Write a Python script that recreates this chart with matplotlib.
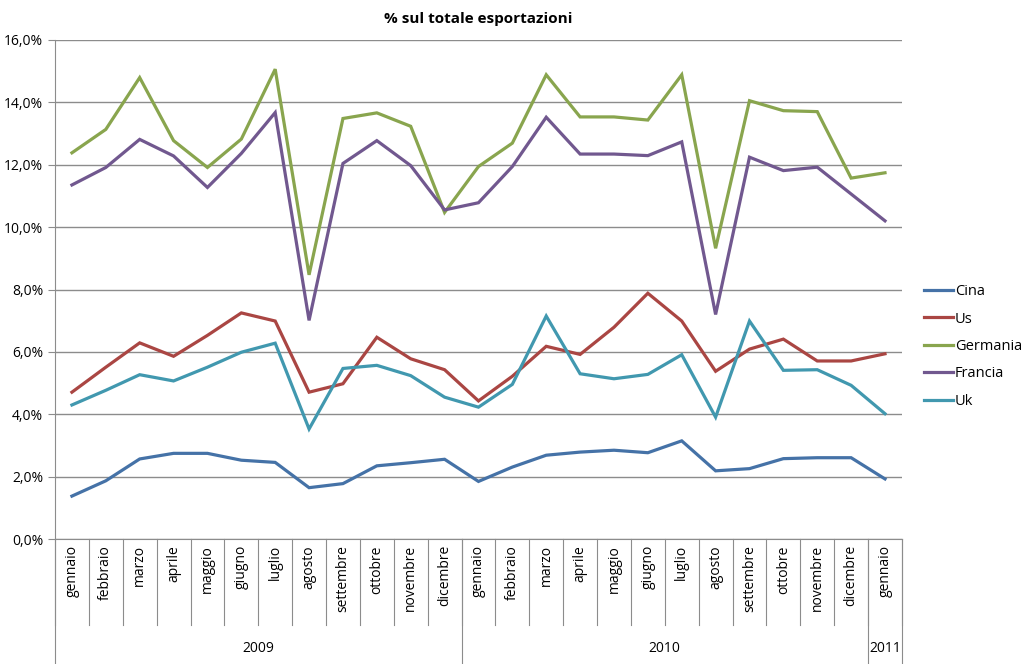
import matplotlib
matplotlib.use("Agg")
import matplotlib.pyplot as plt
from matplotlib.ticker import FuncFormatter

plt.rcParams['font.family'] = ['Open Sans', 'DejaVu Sans']

mesi = ['gennaio', 'febbraio', 'marzo', 'aprile', 'maggio', 'giugno', 'luglio',
        'agosto', 'settembre', 'ottobre', 'novembre', 'dicembre']
months = mesi + mesi + ['gennaio']
years = ['2009', '2010', '2011']
year_len = [12, 12, 1]

cina = [1.38, 1.87, 2.57, 2.75, 2.75, 2.53, 2.46, 1.65, 1.78, 2.35, 2.45, 2.56,
        1.85, 2.31, 2.69, 2.79, 2.85, 2.77, 3.15, 2.19, 2.26, 2.58, 2.61, 2.61,
        1.93]
us = [4.71, 5.51, 6.29, 5.86, 6.53, 7.25, 6.99, 4.71, 4.98, 6.47, 5.78, 5.43,
      4.43, 5.22, 6.18, 5.92, 6.79, 7.88, 6.99, 5.38, 6.09, 6.41, 5.71, 5.71,
      5.94]
germania = [12.38, 13.13, 14.79, 12.77, 11.91, 12.82, 15.06, 8.47, 13.48, 13.66, 13.23, 10.47,
            11.94, 12.69, 14.88, 13.53, 13.53, 13.43, 14.88, 9.32, 14.05, 13.73, 13.70, 11.57,
            11.74]
francia = [11.35, 11.91, 12.81, 12.28, 11.27, 12.36, 13.67, 7.01, 12.04, 12.77, 11.97, 10.55,
           10.78, 11.94, 13.52, 12.34, 12.34, 12.29, 12.73, 7.2, 12.24, 11.81, 11.92, 11.06,
           10.2]
uk = [4.30, 4.77, 5.27, 5.07, 5.51, 5.99, 6.28, 3.53, 5.47, 5.57, 5.24, 4.55,
      4.23, 4.96, 7.15, 5.30, 5.14, 5.28, 5.91, 3.91, 6.99, 5.41, 5.43, 4.93,
      4.02]

series = [('Cina', cina, '#4572A7'), ('Us', us, '#AA4643'),
          ('Germania', germania, '#89A54E'), ('Francia', francia, '#71588F'),
          ('Uk', uk, '#4198AF')]

fig = plt.figure(figsize=(10.24, 6.64), dpi=100)
ax = fig.add_axes([0.0537, 0.188, 0.8271, 0.752])

x = list(range(len(months)))
for name, vals, col in series:
    ax.plot(x, vals, color=col, lw=2.3, label=name, solid_joinstyle='miter')

ax.set_xlim(-0.5, len(months) - 0.5)
ax.set_ylim(0, 16)
ax.set_yticks(range(0, 17, 2))
ax.yaxis.set_major_formatter(FuncFormatter(lambda v, p: f'{v:.1f}%'.replace('.', ',')))
ax.grid(axis='y', color='#8c8c8c', lw=1)
ax.set_axisbelow(True)
for s in ['top', 'right']:
    ax.spines[s].set_visible(False)
ax.spines['left'].set_color('#8c8c8c')
ax.spines['bottom'].set_color('#8c8c8c')
ax.tick_params(axis='y', colors='#8c8c8c', length=5, labelcolor='black', labelsize=10)
ax.set_xticks([])

# multi-level category axis
trans = ax.get_xaxis_transform()
for k in range(len(months) + 1):
    ax.plot([k - 0.5, k - 0.5], [0, -0.172], transform=trans, color='#8c8c8c',
            lw=0.8, clip_on=False)
for i, m in enumerate(months):
    ax.text(i, -0.012, m, transform=trans, rotation=90, ha='center', va='top',
            fontsize=10)
start = 0
for yr, n in zip(years, year_len):
    ax.plot([start - 0.5, start - 0.5], [0, -0.25], transform=trans,
            color='#8c8c8c', lw=0.8, clip_on=False)
    ax.text(start + (n - 1) / 2, -0.218, yr, transform=trans, ha='center',
            va='center', fontsize=10)
    start += n
ax.plot([start - 0.5, start - 0.5], [0, -0.25], transform=trans,
        color='#8c8c8c', lw=0.8, clip_on=False)

ax.set_title('% sul totale esportazioni', fontsize=11, fontweight='bold', pad=12)

ax.legend(loc='center left', bbox_to_anchor=(1.01, 0.386), frameon=False,
          fontsize=10.5, handlelength=2.0, handletextpad=0.15, labelspacing=0.85)

fig.savefig('out.png', dpi=100)
